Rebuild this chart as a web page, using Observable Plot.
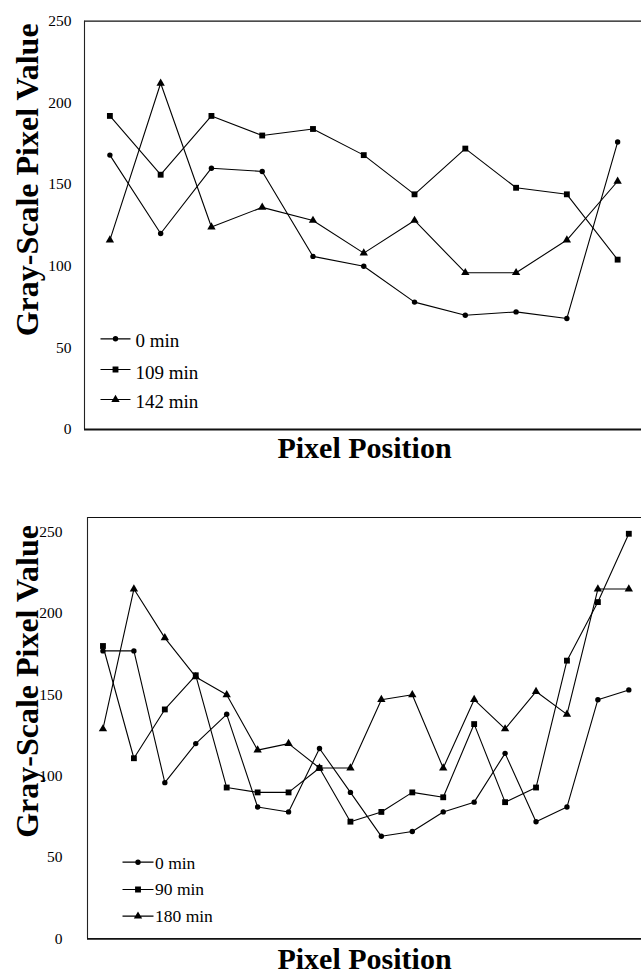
<!DOCTYPE html>
<html><head><meta charset="utf-8">
<script src="https://cdn.jsdelivr.net/npm/d3@7"></script>
<script src="https://cdn.jsdelivr.net/npm/@observablehq/plot@0.6"></script>
<style>
html,body{margin:0;padding:0;background:#fff;}
#chart svg{display:block;}
</style></head><body><div id="chart"></div>
<script>
// ---- data ----
const yTicks = [0, 50, 100, 150, 200, 250];
const yTitle = "Gray-Scale Pixel Value";
const xTitle = "Pixel Position";

// top panel: 11 pixel positions
const topSeries = ["0 min", "109 min", "142 min"];
const top0   = [168, 120, 160, 158, 106, 100, 78, 70, 72, 68, 176];
const top109 = [192, 156, 192, 180, 184, 168, 144, 172, 148, 144, 104];
const top142 = [116, 212, 124, 136, 128, 108, 128, 96, 96, 116, 152];

// bottom panel: 18 pixel positions
const botSeries = ["0 min", "90 min", "180 min"];
const bot0   = [177, 177, 96, 120, 138, 81, 78, 117, 90, 63, 66, 78, 84, 114, 72, 81, 147, 153];
const bot90  = [180, 111, 141, 162, 93, 90, 90, 105, 72, 78, 90, 87, 132, 84, 93, 171, 207, 249];
const bot180 = [129, 215, 185, 161, 150, 116, 120, 105, 105, 147, 150, 105, 147, 129, 152, 138, 215, 215];

// ---- styling ----
const FONT = "'Liberation Serif','Times New Roman',Times,serif";
const shapes = [
  {symbol: d3.symbolCircle, r: 2.7},
  {symbol: d3.symbolSquare, r: 3.3},
  {symbol: d3.symbolTriangle, r: 3.1}
];
function legendSymbol(base, half) {
  return {draw(ctx, size) { ctx.rect(-half, -0.6, 2 * half, 1.2); base.draw(ctx, size); }};
}

function makeChart(cfg) {
  const marks = [];
  // frame lines: top, left, bottom
  marks.push(Plot.ruleY([cfg.yDomain[1]], {stroke: "#111", strokeWidth: 1.2}));
  marks.push(Plot.ruleX([cfg.xDomain[0]], {stroke: "#222", strokeWidth: 1.1}));
  marks.push(Plot.ruleY([0], {stroke: "#111", strokeWidth: 1.8}));
  marks.push(Plot.axisY(yTicks, {tickSize: 0, tickPadding: cfg.tickPadding, fontSize: 15.5, label: null, fontFamily: FONT}));
  cfg.values.forEach((vals, k) => {
    const data = vals.map((v, i) => ({i, v}));
    marks.push(Plot.line(data, {x: "i", y: "v", stroke: "black", strokeWidth: 1.1}));
    marks.push(Plot.dot(data, {x: "i", y: "v", symbol: shapes[k].symbol, r: shapes[k].r, fill: "black", stroke: "none"}));
    // legend entry
    marks.push(Plot.dot([cfg.labels[k]], {frameAnchor: "bottom-left", dx: cfg.legend.lineDx, dy: cfg.legend.dys[k],
      symbol: legendSymbol(shapes[k].symbol, cfg.legend.half), r: shapes[k].r, fill: "black", stroke: "none"}));
    marks.push(Plot.text([cfg.labels[k]], {frameAnchor: "bottom-left", dx: cfg.legend.textDx, dy: cfg.legend.textDys[k],
      textAnchor: "start", lineAnchor: "middle", fontSize: cfg.legend.fontSize, fontFamily: FONT, fill: "black"}));
  });
  marks.push(Plot.text([yTitle], {frameAnchor: "left", rotate: -90, dx: cfg.title.dx, dy: cfg.title.dy,
    textAnchor: "middle", lineAnchor: "middle",
    fontSize: 32, fontWeight: "bold", fontFamily: FONT, fill: "black"}));
  marks.push(Plot.text([xTitle], {frameAnchor: "bottom", dx: cfg.xlabel.dx, dy: cfg.xlabel.dy,
    textAnchor: "middle", lineAnchor: "middle",
    fontSize: 30, fontWeight: "bold", fontFamily: FONT, fill: "black"}));
  return Plot.plot({
    width: 641, height: cfg.height,
    marginLeft: cfg.marginLeft, marginRight: 0, marginTop: cfg.marginTop, marginBottom: cfg.marginBottom,
    style: {fontFamily: FONT, fontSize: "15.5px", background: "white", color: "black", overflow: "visible"},
    x: {domain: cfg.xDomain, axis: null},
    y: {domain: cfg.yDomain},
    marks
  });
}

const topChart = makeChart({
  height: 490, marginLeft: 84, marginTop: 20.7, marginBottom: 61,
  xDomain: [-0.5, 10.47], yDomain: [0, 250], tickPadding: 13,
  values: [top0, top109, top142], labels: topSeries,
  legend: {lineDx: 31, half: 15, textDx: 51, dys: [-90.7, -60, -30], textDys: [-88.2, -57, -27.3], fontSize: 19},
  title: {dx: -57, dy: -45.5},
  xlabel: {dx: 1.5, dy: 18.5}
});

const botChart = makeChart({
  height: 485, marginLeft: 87, marginTop: 27, marginBottom: 36.7,
  xDomain: [-0.5, 17.41], yDomain: [0, 259], tickPadding: 25,
  values: [bot0, bot90, bot180], labels: botSeries,
  legend: {lineDx: 50.5, half: 15.5, textDx: 67.5, dys: [-76.6, -49.3, -22.6], textDys: [-75.8, -49.3, -22.3], fontSize: 17.5},
  title: {dx: -60, dy: -46.7},
  xlabel: {dx: 0, dy: 20.5}
});

document.getElementById("chart").append(topChart, botChart);
</script>
</body></html>
